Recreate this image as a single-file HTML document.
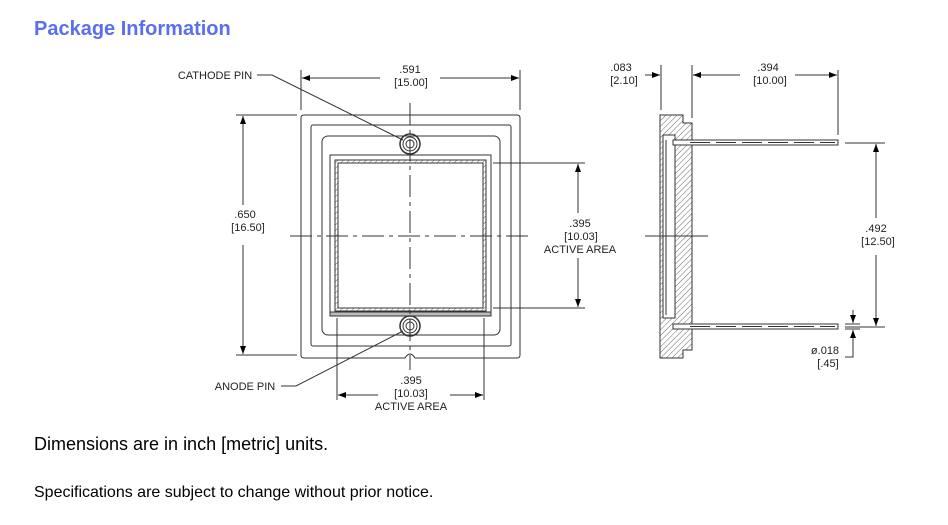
<!DOCTYPE html>
<html><head><meta charset="utf-8"><style>
body{margin:0;background:#fff;width:948px;height:525px;overflow:hidden;font-family:"Liberation Sans",sans-serif}
.t{position:absolute;color:#000}
</style></head><body>
<div class="t" style="left:34px;top:18px;font-size:20px;font-weight:bold;color:#5b6ef0">Package Information</div>
<div class="t" style="left:34px;top:434px;font-size:18px">Dimensions are in inch [metric] units.</div>
<div class="t" style="left:34px;top:484px;font-size:16px">Specifications are subject to change without prior notice.</div>
<svg width="948" height="525" style="position:absolute;left:0;top:0" xmlns="http://www.w3.org/2000/svg">
<defs>
<pattern id="h" width="4" height="4" patternUnits="userSpaceOnUse" patternTransform="rotate(45)"><line x1="0" y1="0" x2="0" y2="4" stroke="#444" stroke-width="0.8"/></pattern>
<marker id="a" markerWidth="8" markerHeight="6" refX="8" refY="3" orient="auto-start-reverse" markerUnits="userSpaceOnUse"><path d="M0,0 L8,3 L0,6z" fill="#000"/></marker>
</defs>
<g fill="none" stroke="#333" stroke-width="1">
<path d="M304,115 H517 Q520,115 520,118 V355 Q520,358 517,358 H415 Q410,350 405,358 H304 Q301,358 301,355 V118 Q301,115 304,115Z"/>
<rect x="311" y="125" width="200" height="221" rx="2"/>
<rect x="322" y="136" width="178" height="199" rx="6"/>
<rect x="330" y="155" width="161" height="161"/>
<path d="M335,160 H486 V311 H335Z M338,163 V308 H483 V163Z" fill="url(#h)" fill-rule="evenodd"/>
<rect x="330" y="312" width="161" height="4" fill="#bbb"/>
<circle cx="410" cy="144" r="10" stroke-width="1.5"/><circle cx="410" cy="144" r="7"/><circle cx="410" cy="144" r="4"/>
<circle cx="410" cy="326" r="10" stroke-width="1.5"/><circle cx="410" cy="326" r="7"/><circle cx="410" cy="326" r="4"/>
<line x1="290" y1="236" x2="530" y2="236" stroke-dasharray="22,5,4,5"/>
<line x1="410" y1="103" x2="410" y2="370" stroke-dasharray="22,5,4,5"/>
<line x1="301" y1="70" x2="301" y2="110"/><line x1="520" y1="70" x2="520" y2="110"/>
<line x1="302" y1="78" x2="380" y2="78" marker-start="url(#a)"/><line x1="440" y1="78" x2="519" y2="78" marker-end="url(#a)"/>
<line x1="236" y1="115" x2="297" y2="115"/><line x1="236" y1="355" x2="297" y2="355"/>
<line x1="243" y1="116" x2="243" y2="205" marker-start="url(#a)"/><line x1="243" y1="245" x2="243" y2="354" marker-end="url(#a)"/>
<line x1="493" y1="163" x2="585" y2="163"/><line x1="493" y1="308" x2="585" y2="308"/>
<line x1="578" y1="164" x2="578" y2="213" marker-start="url(#a)"/><line x1="578" y1="258" x2="578" y2="307" marker-end="url(#a)"/>
<line x1="337" y1="318" x2="337" y2="400"/><line x1="484" y1="318" x2="484" y2="400"/>
<line x1="338" y1="395" x2="378" y2="395" marker-start="url(#a)"/><line x1="450" y1="395" x2="483" y2="395" marker-end="url(#a)"/>
<path d="M257,75 H272 L403,140"/>
<path d="M281,386 H296 L403,331"/>
<path d="M660,115 H683 V123 H692 V350 H683 V358 H660Z" fill="url(#h)"/>
<rect x="663" y="135" width="12" height="183" fill="#fff"/>
<line x1="666" y1="140" x2="666" y2="315"/>
<rect x="673" y="140" width="165" height="5" fill="#fff"/>
<rect x="673" y="324" width="165" height="5" fill="#fff"/>
<line x1="690" y1="142.5" x2="835" y2="142.5" stroke-dasharray="20,6"/>
<line x1="690" y1="326.5" x2="835" y2="326.5" stroke-dasharray="20,6"/>
<line x1="645" y1="236" x2="708" y2="236"/>
<line x1="661" y1="65" x2="661" y2="110"/><line x1="692" y1="65" x2="692" y2="118"/>
<line x1="645" y1="75" x2="660" y2="75" marker-end="url(#a)"/>
<line x1="693" y1="75" x2="740" y2="75" marker-start="url(#a)"/><line x1="795" y1="75" x2="837" y2="75" marker-end="url(#a)"/>
<line x1="838" y1="70" x2="838" y2="135"/>
<line x1="845" y1="143" x2="885" y2="143"/><line x1="845" y1="327" x2="885" y2="327"/>
<line x1="876" y1="144" x2="876" y2="218" marker-start="url(#a)"/><line x1="876" y1="255" x2="876" y2="326" marker-end="url(#a)"/>
<line x1="845" y1="324" x2="860" y2="324"/><line x1="845" y1="329" x2="860" y2="329"/>
<line x1="853" y1="310" x2="853" y2="323" marker-end="url(#a)"/>
<path d="M853,343 V330" marker-end="url(#a)"/><path d="M853,343 V357 H845"/>
</g>
<g font-family="Liberation Sans,sans-serif" font-size="11" fill="#222" text-anchor="middle">
<text x="215" y="79">CATHODE PIN</text>
<text x="245" y="390">ANODE PIN</text>
<text x="410" y="73">.591</text><text x="411" y="86">[15.00]</text>
<text x="245" y="218">.650</text><text x="248" y="231">[16.50]</text>
<text x="580" y="227">.395</text><text x="581" y="240">[10.03]</text><text x="580" y="253">ACTIVE AREA</text>
<text x="411" y="384">.395</text><text x="411" y="397">[10.03]</text><text x="411" y="410">ACTIVE AREA</text>
<text x="621" y="71">.083</text><text x="624" y="84">[2.10]</text>
<text x="768" y="71">.394</text><text x="770" y="84">[10.00]</text>
<text x="876" y="232">.492</text><text x="878" y="245">[12.50]</text>
<text x="825" y="354">ø.018</text><text x="828" y="367">[.45]</text>
</g>
</svg>
</body></html>
